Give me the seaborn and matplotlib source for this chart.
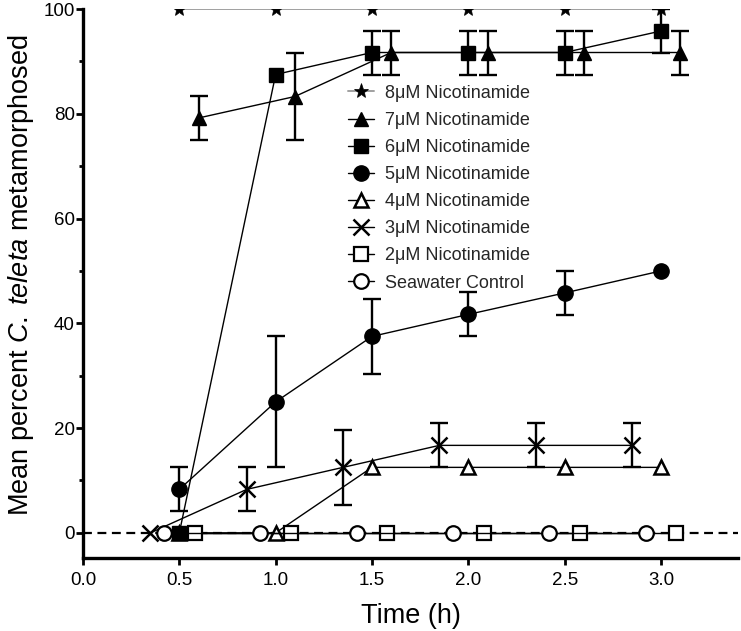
import pandas as pd
import seaborn as sns
import matplotlib.pyplot as plt
import matplotlib.ticker as tick

# time points (h) for each series, offsets as in the original figure
t_main = [0.5, 1.0, 1.5, 2.0, 2.5, 3.0]
t_7 = [0.6, 1.1, 1.6, 2.1, 2.6, 3.1]
t_3 = [0.35, 0.85, 1.35, 1.85, 2.35, 2.85]
t_2 = [0.58, 1.08, 1.58, 2.08, 2.58, 3.08]
t_sw = [0.42, 0.92, 1.42, 1.92, 2.42, 2.92]

# mean percent metamorphosed and error (SEM)
y_8 = [100, 100, 100, 100, 100, 100]
y_7 = [79.2, 83.3, 91.7, 91.7, 91.7, 91.7]
e_7 = [4.2, 8.3, 4.2, 4.2, 4.2, 4.2]
y_6 = [0, 87.5, 91.7, 91.7, 91.7, 95.8]
e_6 = [0, 0, 4.2, 4.2, 4.2, 4.2]
y_5 = [8.3, 25.0, 37.5, 41.7, 45.8, 50.0]
e_5 = [4.2, 12.5, 7.2, 4.2, 4.2, 0]
y_4 = [0, 0, 12.5, 12.5, 12.5, 12.5]
y_3 = [0, 8.3, 12.5, 16.7, 16.7, 16.7]
e_3 = [0, 4.2, 7.2, 4.2, 4.2, 4.2]
y_2 = [0, 0, 0, 0, 0, 0]
y_sw = [0, 0, 0, 0, 0, 0]

labels = ['8\u03bcM Nicotinamide', '7\u03bcM Nicotinamide', '6\u03bcM Nicotinamide',
          '5\u03bcM Nicotinamide', '4\u03bcM Nicotinamide', '3\u03bcM Nicotinamide',
          '2\u03bcM Nicotinamide', 'Seawater Control']

series = [
    (t_main, y_8, None, dict(marker='*', ms=11, mfc='black', mec='black', mew=0.5, color='#a0a0a0', lw=1.4)),
    (t_7, y_7, e_7, dict(marker='^', ms=10, mfc='black', mec='black', mew=1, color='black', lw=1)),
    (t_main, y_6, e_6, dict(marker='s', ms=10, mfc='black', mec='black', mew=1, color='black', lw=1, zorder=4)),
    (t_main, y_5, e_5, dict(marker='o', ms=11, mfc='black', mec='black', mew=1, color='black', lw=1)),
    (t_main, y_4, None, dict(marker='^', ms=10, mfc='white', mec='black', mew=1.8, color='black', lw=1)),
    (t_3, y_3, e_3, dict(marker='x', ms=11, mfc='black', mec='black', mew=1.8, color='black', lw=1)),
    (t_2, y_2, None, dict(marker='s', ms=10, mfc='white', mec='black', mew=1.6, color='black', lw=1)),
    (t_sw, y_sw, None, dict(marker='o', ms=10.5, mfc='white', mec='black', mew=1.6, color='black', lw=1)),
]

sns.set_theme(style='ticks')
plt.rcParams['font.family'] = ['Liberation Sans', 'DejaVu Sans']
plt.rcParams['mathtext.fontset'] = 'custom'
plt.rcParams['mathtext.rm'] = 'Liberation Sans'
plt.rcParams['mathtext.it'] = 'Liberation Sans:italic'

fig = plt.figure(figsize=(7.41, 6.31), dpi=100)
ax = fig.add_axes([0.112, 0.1157, 0.884, 0.870])

ax.axhline(0, color='black', ls=(0, (4, 2.5)), lw=1.6, zorder=1.5)

handles = []
for (x, y, err, style), lab in zip(series, labels):
    df = pd.DataFrame({'time': x, 'pct': y})
    z = style.pop('zorder', 3)
    sns.lineplot(data=df, x='time', y='pct', errorbar=None, ax=ax, label=lab,
                 marker=style['marker'], markersize=style['ms'],
                 markerfacecolor=style['mfc'], markeredgecolor=style['mec'],
                 markeredgewidth=style['mew'], color=style['color'],
                 linewidth=style['lw'], zorder=z)
    handles.append(ax.lines[-1])
    if err is not None:
        xe = [a for a, e in zip(x, err) if e > 0]
        ye = [b for b, e in zip(y, err) if e > 0]
        ee = [e for e in err if e > 0]
        ax.errorbar(xe, ye, yerr=ee, fmt='none', ecolor='black', elinewidth=1.7,
                    capsize=6.5, capthick=1.7, zorder=z)

ax.set_xlim(0, 3.4)
ax.set_ylim(-4.8, 100)
ax.xaxis.set_major_locator(tick.MultipleLocator(0.5))
ax.xaxis.set_major_formatter(tick.FormatStrFormatter('%.1f'))
ax.yaxis.set_major_locator(tick.MultipleLocator(20))
ax.yaxis.set_minor_locator(tick.MultipleLocator(10))

for side in ['top', 'right']:
    ax.spines[side].set_visible(False)
for side in ['left', 'bottom']:
    ax.spines[side].set_linewidth(2.4)
    ax.spines[side].set_color('black')

ax.tick_params(axis='both', which='major', length=5, width=2, color='black',
               labelsize=13.5, labelcolor='black')
ax.tick_params(axis='y', which='major', pad=1)
ax.tick_params(axis='x', which='major', pad=5)
ax.tick_params(axis='y', which='minor', length=3, width=2, color='black')

ax.set_xlabel('Time (h)', fontsize=19.5, labelpad=10, color='black')
ax.set_ylabel(r'Mean percent $\it{C.\;teleta}$ metamorphosed', fontsize=19.5,
              color='black')
ax.yaxis.set_label_coords(-0.072, 0.515)

ax.legend(handles=handles, labels=labels, loc='upper left', frameon=False,
          bbox_to_anchor=(0.404, 0.862), fontsize=13, handlelength=1.45,
          handletextpad=0.6, labelspacing=0.56, borderpad=0, borderaxespad=0)

ax.grid(False)
fig.savefig('out.png', dpi=100)
